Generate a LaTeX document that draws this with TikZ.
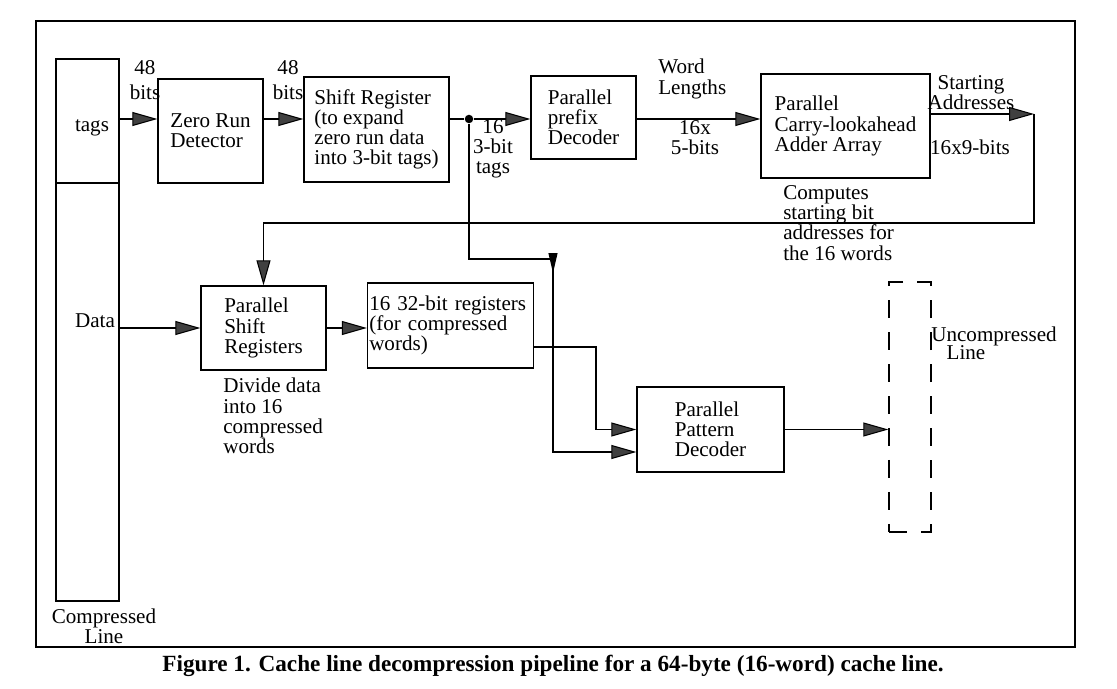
\documentclass[tikz,border=0pt]{standalone}
\usepackage{fontspec}
\setmainfont{Liberation Serif}
\usetikzlibrary{arrows.meta}

\begin{document}
\begin{tikzpicture}[> = {Triangle[length=5mm,width=2.8mm,fill=black!75]}, % arrow head style
	x=0.02cm, y=-0.02cm, % one unit is one pixel of the page
	semithick, % line style
	every node/.style={font=\fontsize{12}{11.5}\selectfont, inner sep=1pt},
	blk/.style={draw, thick, rectangle, align=left},
	bar/.style={draw, line width=1.5pt, rectangle, minimum width=1.26cm},
	txt/.style={align=center},
	dot/.style={circle, fill, inner sep=0pt, minimum size=1.7mm},
	small/.style={-{Triangle[length=4mm,width=1.8mm,fill=black]}}]
	\useasboundingbox (0,0) rectangle (1117,689);
	\draw[line width=1pt] (36,21) rectangle (1075,647);

	% compressed line
	\node[bar, minimum height=2.48cm] (tagbox) at (87.5,121) {};
	\node[bar, minimum height=8.36cm] (databox) at (87.5,392) {};
	\node (tagtxt) at (92,128) {tags};
	\node (datatxt) at (95,321) {Data};
	\node[txt] (cline) at (104,626) {Compressed\\Line};

	% blocks
	\node[blk, minimum width=2.1cm, minimum height=2.08cm] (zrd) at (210.5,131) {Zero Run\\Detector};
	\node[blk, minimum width=2.9cm, minimum height=2.1cm] (shreg) at (376.5,129.5) {Shift Register\\(to expand\\zero run data\\into 3-bit tags)};
	\node[blk, minimum width=2.1cm, minimum height=1.66cm] (ppd) at (583.5,117.5) {Parallel\\prefix\\Decoder};
	\node[blk, minimum width=3.38cm, minimum height=2.08cm] (cla) at (845.5,126) {Parallel\\Carry-lookahead\\Adder Array};
	\node[blk, minimum width=2.5cm, minimum height=1.68cm] (psr) at (263.5,328) {Parallel\\Shift\\Registers};
	\node[blk, text width=3.25cm, minimum height=1.7cm] (regs) at (450.5,325.5) {16 32-bit registers\\(for compressed\\words)};
	\node[blk, minimum width=2.94cm, minimum height=1.7cm] (ppat) at (710.5,429.5) {Parallel\\Pattern\\Decoder};
	\node[draw, thick, dash pattern=on 0.36cm off 0.28cm, minimum width=0.84cm, minimum height=5cm] (uline) at (910,407) {};
	\node (unc) at (994,336) {Uncompressed};
	\node (unc2) at (966,353) {Line};

	% labels
	\node[txt] (w1) at (145,80) {48\\[3pt]bits};
	\node[txt] (w2) at (288,80) {48\\[3pt]bits};
	\node[txt] (w3) at (493,149) {16\\3-bit\\tags};
	\node[align=left, anchor=west] (wl) at (656,79) {Word\\Lengths};
	\node[txt] (w4) at (695,138) {16x\\5-bits};
	\node[txt] (sa) at (971,93) {Starting\\Addresses};
	\node (w5) at (970,147) {16x9-bits};
	\node[align=left, anchor=west] (comp) at (781,223) {Computes\\starting bit\\addresses for\\the 16 words};
	\node[align=left, anchor=west] (divd) at (221,416) {Divide data\\into 16\\compressed\\words};

	% connectors
	\coordinate (row) at (0,119);
	\node[dot] (split) at (469,119) {};
	\coordinate (addr) at (1034,114);
	\coordinate (fb) at (1034,223);
	\coordinate (br) at (553,259);
	\coordinate (jog) at (596,347);

	\draw [->] (tagbox.east |- row) -- (zrd.west |- row);
	\draw [->] (zrd.east |- row) -- (shreg.west |- row);
	\draw (shreg.east |- row) -- (split);
	\draw [->] (split) -- (ppd.west |- split);
	\draw [->] (ppd.east |- split) -- (cla.west |- split);
	\draw [->] (cla.east |- addr) -- (addr);
	\draw [->] (addr) -- (fb) -| (psr.north);
	\draw [small] (split) |- (br) -- ++(0,14);
	\draw [->] (br) |- ([yshift=-0.45cm]ppat.west);
	\draw [->] (databox.east |- psr.west) -- (psr.west);
	\draw [->] (psr.east) -- (psr.east -| regs.west);
	\draw [->] (regs.east |- jog) -- (jog) |- (ppat.west);
	\draw [->] (ppat.east) -- (ppat.east -| uline.west);

	\node[font=\bfseries\fontsize{13.2}{15}\selectfont] (caption) at (553,666) {Figure 1. Cache line decompression pipeline for a 64-byte (16-word) cache line.};
\end{tikzpicture}
\end{document}
